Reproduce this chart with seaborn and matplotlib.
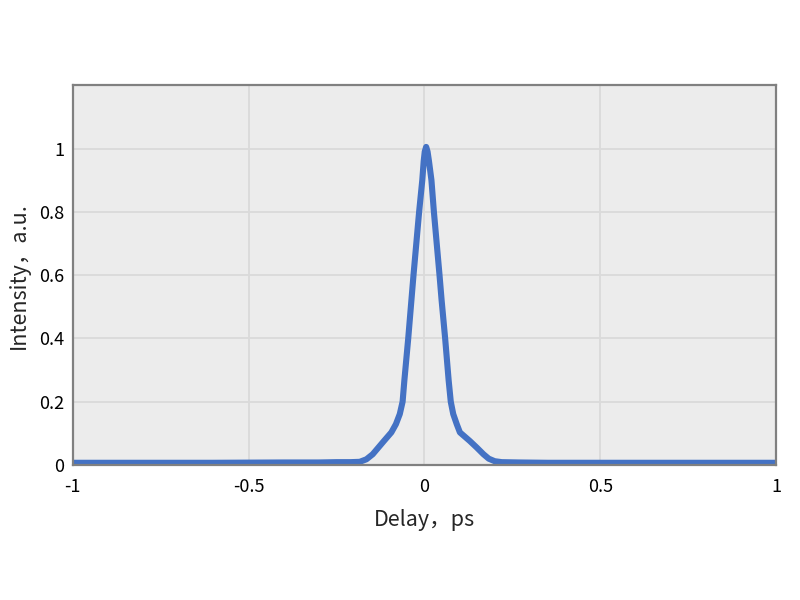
import matplotlib
matplotlib.use("Agg")
import matplotlib.pyplot as plt
import seaborn as sns
import pandas as pd

delay_ps = [-1.0, -0.8, -0.6, -0.4, -0.3, -0.25, -0.21, -0.184, -0.165, -0.147, -0.131,
            -0.115, -0.094, -0.081, -0.070, -0.062, -0.057, -0.046, -0.037, -0.031,
            -0.015, -0.006, -0.002, 0.001, 0.005, 0.009, 0.013, 0.020, 0.027, 0.043,
            0.049, 0.059, 0.069, 0.075, 0.082, 0.092, 0.101, 0.129, 0.149, 0.168,
            0.183, 0.200, 0.22, 0.27, 0.35, 0.5, 0.7, 1.0]
intensity = [0.007, 0.007, 0.007, 0.008, 0.008, 0.009, 0.009, 0.010, 0.018, 0.034, 0.055,
             0.076, 0.103, 0.129, 0.161, 0.2, 0.267, 0.4, 0.52, 0.6,
             0.8, 0.9, 0.96, 0.99, 1.005, 0.99, 0.96, 0.9, 0.8, 0.6,
             0.52, 0.4, 0.267, 0.2, 0.161, 0.129, 0.103, 0.076, 0.055, 0.034,
             0.020, 0.012, 0.009, 0.008, 0.007, 0.007, 0.007, 0.007]
x_ticks = [-1, -0.5, 0, 0.5, 1]
x_tick_labels = ["-1", "-0.5", "0", "0.5", "1"]
y_ticks = [0, 0.2, 0.4, 0.6, 0.8, 1.0, 1.2]
y_tick_labels = ["0", "0.2", "0.4", "0.6", "0.8", "1", ""]

df = pd.DataFrame({"delay": delay_ps, "intensity": intensity})

sns.set_style("darkgrid", {"axes.facecolor": "#ECECEC", "grid.color": "#DADADA"})
plt.rcParams["font.family"] = ["Noto Sans CJK SC", "DejaVu Sans"]

fig = plt.figure(figsize=(8, 6), dpi=100)
ax = fig.add_axes([0.091, 0.225, 0.879, 0.633])
sns.lineplot(data=df, x="delay", y="intensity", ax=ax, color="#4472C4",
             linewidth=4.4, solid_joinstyle="round", solid_capstyle="round")

ax.set_xlim(-1, 1)
ax.set_ylim(0, 1.2)
ax.set_xticks(x_ticks)
ax.set_xticklabels(x_tick_labels)
ax.set_yticks(y_ticks)
ax.set_yticklabels(y_tick_labels)
ax.tick_params(axis="x", length=0, labelsize=13, colors="black", pad=9)
ax.tick_params(axis="y", length=0, labelsize=13, colors="black", pad=6)
ax.grid(True, color="#DADADA", linewidth=1.3)
for s in ax.spines.values():
    s.set_visible(True)
    s.set_color("#808080")
    s.set_linewidth(1.6)
ax.set_xlabel("Delay，ps", fontsize=15.5, labelpad=10)
ax.set_ylabel("Intensity，a.u.", fontsize=15.5, labelpad=7)

fig.savefig("out.png", dpi=100)
